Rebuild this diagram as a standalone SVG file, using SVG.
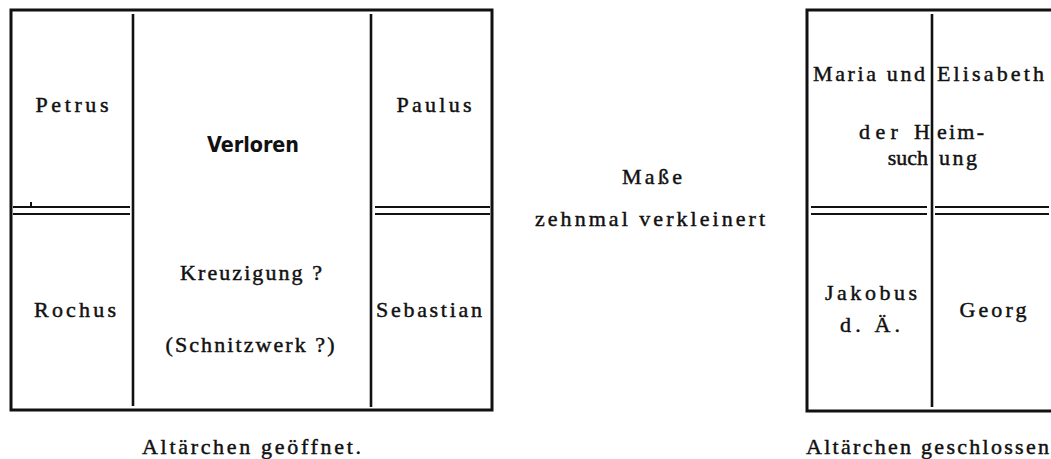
<svg xmlns="http://www.w3.org/2000/svg" width="1051" height="459" viewBox="0 0 1051 459">
<style>
.frame{fill:none;stroke:#111;stroke-width:3}
.div{stroke:#111;stroke-width:2.6;fill:none}
.dbl{stroke:#111;stroke-width:2;fill:none}
.t{font-family:"Liberation Serif","Times New Roman",serif;font-size:22px;fill:#111;stroke:#111;stroke-width:0.45}
.b{font-family:"DejaVu Sans Condensed","DejaVu Sans","Liberation Sans",sans-serif;font-stretch:condensed;font-size:21px;font-weight:bold;fill:#111}
.m{text-anchor:middle}
.e{text-anchor:end}
</style>
<rect width="1051" height="459" fill="#fff"/>
<g id="connectors">
<rect class="frame" x="11" y="10" width="481" height="400"/>
<line class="div" x1="133" y1="14" x2="133" y2="406"/>
<line class="div" x1="371" y1="14" x2="371" y2="407"/>
<line class="dbl" x1="13" y1="207" x2="130" y2="207"/>
<line class="dbl" x1="13" y1="214" x2="130" y2="214"/>
<line class="dbl" x1="31" y1="202" x2="31" y2="207"/>
<line class="dbl" x1="375" y1="207" x2="490" y2="207"/>
<line class="dbl" x1="375" y1="214" x2="490" y2="214"/>
<path class="frame" d="M1053,10 H807 V411 H1053"/>
<line class="div" x1="932" y1="14" x2="932" y2="407"/>
<line class="dbl" x1="811" y1="207" x2="927" y2="207"/>
<line class="dbl" x1="811" y1="214" x2="927" y2="214"/>
<line class="dbl" x1="935" y1="207" x2="1049" y2="207"/>
<line class="dbl" x1="935" y1="214" x2="1049" y2="214"/>
</g>
<g id="petrus"><text class="t m" x="72" y="112" textLength="73" lengthAdjust="spacing">Petrus</text></g>
<g id="paulus"><text class="t m" x="434" y="112" textLength="75" lengthAdjust="spacing">Paulus</text></g>
<g id="verloren"><text class="b m" x="253" y="152" textLength="92" lengthAdjust="spacingAndGlyphs">Verloren</text></g>
<g id="kreuzigung">
<text class="t m" x="251" y="280" textLength="142" lengthAdjust="spacing">Kreuzigung ?</text>
<text class="t m" x="250" y="352" textLength="169" lengthAdjust="spacing">(Schnitzwerk ?)</text>
</g>
<g id="rochus"><text class="t m" x="75" y="317" textLength="82" lengthAdjust="spacing">Rochus</text></g>
<g id="sebastian"><text class="t m" x="429" y="317" textLength="106" lengthAdjust="spacing">Sebastian</text></g>
<g id="caption-open"><text class="t" x="142" y="454" textLength="219" lengthAdjust="spacing">Altärchen geöffnet.</text></g>
<g id="masse">
<text class="t m" x="652" y="184" textLength="60" lengthAdjust="spacing">Maße</text>
<text class="t m" x="650" y="226" textLength="230" lengthAdjust="spacing">zehnmal verkleinert</text>
</g>
<g id="heimsuchung">
<text class="t" x="813" y="81" textLength="112" lengthAdjust="spacing">Maria und</text>
<text class="t" x="937" y="81" textLength="107" lengthAdjust="spacing">Elisabeth</text>
<text class="t" x="859" y="139" textLength="71" lengthAdjust="spacing">der H</text>
<text class="t" x="937" y="139" textLength="47" lengthAdjust="spacing">eim-</text>
<text class="t e" x="928" y="165">such</text>
<text class="t" x="939" y="165" textLength="38" lengthAdjust="spacing">ung</text>
</g>
<g id="jakobus">
<text class="t m" x="871" y="300" textLength="92" lengthAdjust="spacing">Jakobus</text>
<text class="t m" x="870" y="332" textLength="60" lengthAdjust="spacing">d. Ä.</text>
</g>
<g id="georg"><text class="t m" x="993" y="317" textLength="67" lengthAdjust="spacing">Georg</text></g>
<g id="caption-closed"><text class="t" x="806" y="454" textLength="243" lengthAdjust="spacing">Altärchen geschlossen</text></g>
</svg>
